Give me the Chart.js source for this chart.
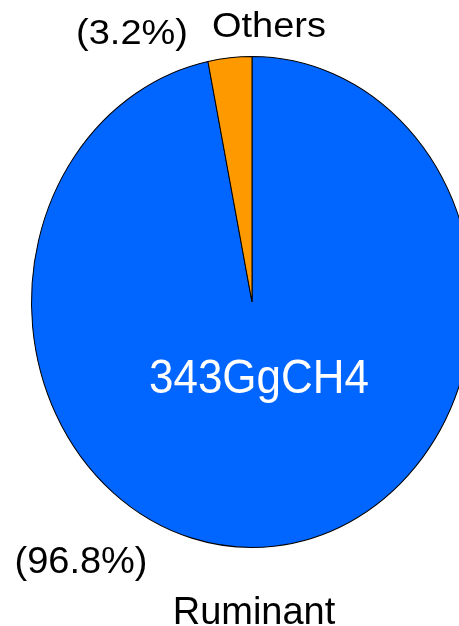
<!DOCTYPE html>
<html>
<head>
<meta charset="utf-8">
<script src="https://cdn.jsdelivr.net/npm/chart.js@4/dist/chart.umd.min.js"></script>
<style>
  html, body { margin: 0; padding: 0; background: #fff; overflow: hidden; }
  #wrap { width: 459px; height: 626px; overflow: hidden; position: relative; }
  #pieChart { position: absolute; left: 0; top: 0; }
</style>
</head>
<body>
<div id="wrap">
  <canvas id="pieChart" width="520" height="626"></canvas>
</div>
<script>
// methane emission share by source
const categories = ["Ruminant", "Others"];
const shares = [96.8, 3.2];
const sliceColors = ["#0066ff", "#ff9900"];
const totalLabel = "343GgCH4";

// pie is drawn as a circle and squeezed into an upright ellipse
const stretchY = 246 / 221;

const ellipsePlugin = {
  id: 'ellipse',
  beforeDatasetsDraw(chart) {
    const arc = chart.getDatasetMeta(0).data[0];
    const ctx = chart.ctx;
    ctx.save();
    ctx.translate(arc.x, arc.y);
    ctx.scale(1, stretchY);
    ctx.translate(-arc.x, -arc.y);
  },
  afterDatasetsDraw(chart) {
    chart.ctx.restore();
  }
};

// centred text at a baseline, with its own vertical scale
function drawText(ctx, text, x, y, sy, color, size) {
  ctx.save();
  ctx.translate(x, y);
  ctx.scale(1, sy);
  ctx.fillStyle = color;
  ctx.font = size + 'px "Liberation Sans", Arial, sans-serif';
  ctx.textAlign = 'center';
  ctx.textBaseline = 'alphabetic';
  ctx.fillText(text, 0, 0);
  ctx.restore();
}

const labelPlugin = {
  id: 'labels',
  afterDraw(chart) {
    const ctx = chart.ctx;
    drawText(ctx, categories[1], 269, 37, 0.92, '#000', 38);
    drawText(ctx, '(' + shares[1].toFixed(1) + '%)', 132, 44, 0.92, '#000', 38);
    drawText(ctx, '(' + shares[0].toFixed(1) + '%)', 81, 573, 0.98, '#000', 38);
    drawText(ctx, categories[0], 254, 624, 1.0, '#000', 38);
    drawText(ctx, totalLabel, 259, 393, 1.1, '#fff', 44);
  }
};

const ctx = document.getElementById("pieChart").getContext('2d');
new Chart(ctx, {
  type: 'pie',
  data: {
    labels: categories,
    datasets: [{
      data: shares,
      backgroundColor: sliceColors,
      borderColor: '#000',
      borderWidth: 1,
      hoverOffset: 0
    }]
  },
  options: {
    responsive: false,
    animation: false,
    layout: {
      padding: { left: 31, right: 47, top: 81, bottom: 103 }
    },
    plugins: {
      legend: { display: false },
      tooltip: { enabled: false }
    }
  },
  plugins: [ellipsePlugin, labelPlugin]
});
</script>
</body>
</html>
